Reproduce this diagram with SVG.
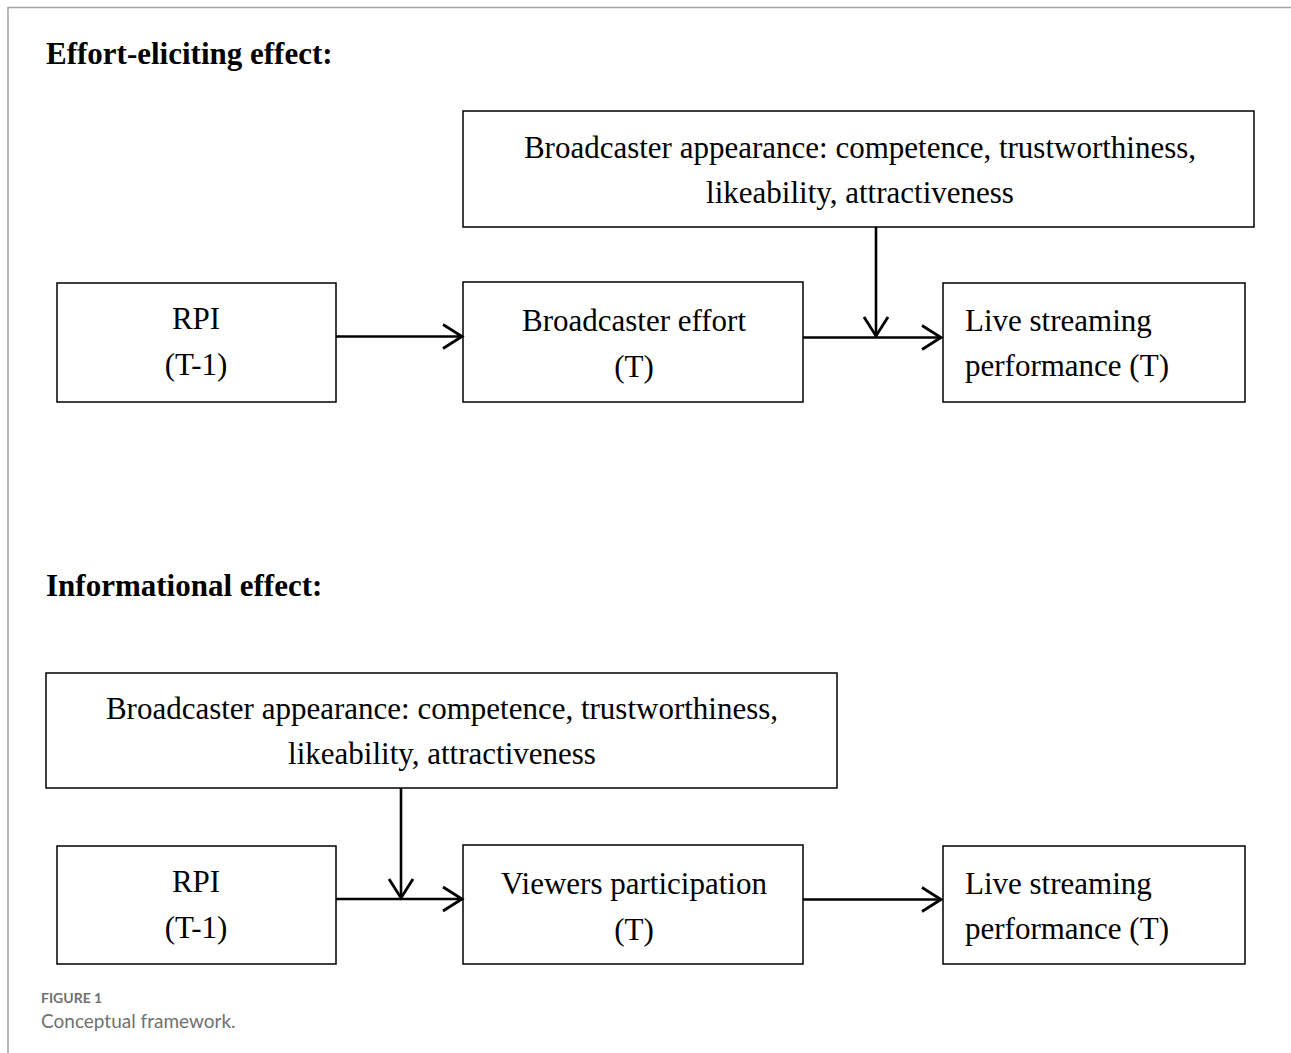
<svg xmlns="http://www.w3.org/2000/svg" width="1291" height="1053" viewBox="0 0 1291 1053">
<defs>
<marker id="arr" markerUnits="userSpaceOnUse" markerWidth="30" markerHeight="30" refX="22" refY="14" orient="auto">
<path d="M3,2 L22,14 L3,26" fill="none" stroke="#000" stroke-width="2.8"/>
</marker>
<style>
.box{fill:#fff;stroke:#000;stroke-width:1.5}
.t{font-family:"Liberation Serif","Times New Roman",serif;font-size:31px;fill:#000}
.c{text-anchor:middle}
.h{font-family:"Liberation Serif","Times New Roman",serif;font-size:31px;font-weight:bold;fill:#000}
.conn{stroke:#000;stroke-width:2.6;fill:none}
</style>
</defs>
<rect width="1291" height="1053" fill="#fff"/>
<path d="M8,1053 L8,7.5 L1291,7.5" fill="none" stroke="#a6a6a6" stroke-width="1.5"/>
<text class="h" x="46" y="64">Effort-eliciting effect:</text>
<text class="h" x="46" y="596">Informational effect:</text>

<g id="top-appearance"><rect class="box" x="463" y="111" width="791" height="116"/>
<text class="t c" x="860" y="158">Broadcaster appearance: competence, trustworthiness,</text>
<text class="t c" x="860" y="203">likeability, attractiveness</text></g>
<g id="top-rpi"><rect class="box" x="57" y="283" width="279" height="119"/>
<text class="t c" x="196" y="329">RPI</text><text class="t c" x="196" y="375">(T-1)</text></g>
<g id="top-effort"><rect class="box" x="463" y="282" width="340" height="120"/>
<text class="t c" x="634" y="331">Broadcaster effort</text><text class="t c" x="634" y="377">(T)</text></g>
<g id="top-live"><rect class="box" x="943" y="283" width="302" height="119"/>
<text class="t" x="965" y="331">Live streaming</text><text class="t" x="965" y="376">performance (T)</text></g>

<g id="bot-appearance"><rect class="box" x="46" y="673" width="791" height="115"/>
<text class="t c" x="442" y="719">Broadcaster appearance: competence, trustworthiness,</text>
<text class="t c" x="442" y="764">likeability, attractiveness</text></g>
<g id="bot-rpi"><rect class="box" x="57" y="846" width="279" height="118"/>
<text class="t c" x="196" y="892">RPI</text><text class="t c" x="196" y="938">(T-1)</text></g>
<g id="bot-viewers"><rect class="box" x="463" y="845" width="340" height="119"/>
<text class="t c" x="634" y="894">Viewers participation</text><text class="t c" x="634" y="940">(T)</text></g>
<g id="bot-live"><rect class="box" x="943" y="846" width="302" height="118"/>
<text class="t" x="965" y="894">Live streaming</text><text class="t" x="965" y="939">performance (T)</text></g>

<g id="connectors">
<line class="conn" x1="336" y1="336.5" x2="462" y2="336.5" marker-end="url(#arr)"/>
<line class="conn" x1="803" y1="337.5" x2="941" y2="337.5" marker-end="url(#arr)"/>
<line class="conn" x1="876" y1="227" x2="876" y2="336" marker-end="url(#arr)"/>
<line class="conn" x1="336" y1="899" x2="462" y2="899" marker-end="url(#arr)"/>
<line class="conn" x1="401" y1="788" x2="401" y2="898" marker-end="url(#arr)"/>
<line class="conn" x1="803" y1="899.5" x2="941" y2="899.5" marker-end="url(#arr)"/>
</g>

<text x="41" y="1003" font-family="Lato,'Open Sans',sans-serif" font-size="14" font-weight="bold" fill="#707070">FIGURE 1</text>
<text x="41" y="1028" font-family="Lato,'Open Sans',sans-serif" font-size="19" fill="#707070">Conceptual framework.</text>
</svg>
